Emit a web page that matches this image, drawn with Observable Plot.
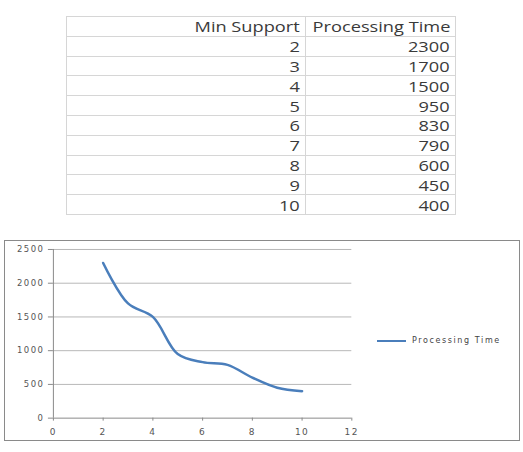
<!DOCTYPE html>
<html>
<head>
<meta charset="utf-8">
<script src="https://cdn.jsdelivr.net/npm/d3@7"></script>
<script src="https://cdn.jsdelivr.net/npm/@observablehq/plot@0.6"></script>
<style>
  html, body { margin: 0; padding: 0; background: #fff; }
  body { width: 523px; height: 452px; position: relative; overflow: hidden; }
  #tbl { position: absolute; left: 66px; top: 16px; border-collapse: collapse;
         font-family: "Open Sans", sans-serif; font-size: 13.8px; color: #3a3a3a; }
  #tbl tr { height: 19.8px; }
  #tbl td { border: 1px solid #d6d6d6; padding: 2px 5px 0 0; text-align: right;
            line-height: 16px; box-sizing: border-box; }
  #tbl td span { display: inline-block; transform: scaleX(1.32); transform-origin: right center; }
  #tbl td.c1 { width: 239px; }
  #tbl td.c2 { width: 150px; }
  #box { position: absolute; left: 4px; top: 240px; width: 516px; height: 201px;
         box-sizing: border-box; border: 1px solid #8a8a8a; }
  #chart { position: absolute; left: -1px; top: -1px; }
  #legend { position: absolute; left: 372px; top: 95px; font-family: "DejaVu Sans", sans-serif;
            font-size: 8px; letter-spacing: 1.6px; color: #444; white-space: nowrap; line-height: 10px; }
  #legend .swatch { display: inline-block; width: 29px; height: 0; border-top: 2.5px solid #4a7ebb;
                    vertical-align: middle; margin-right: 6px; }
</style>
</head>
<body>
<table id="tbl"></table>
<div id="box"><div id="chart"></div><div id="legend"><span class="swatch"></span>Processing Time</div></div>
<script>
const headers = ["Min Support", "Processing Time"];
const minSupport = [2, 3, 4, 5, 6, 7, 8, 9, 10];
const processingTime = [2300, 1700, 1500, 950, 830, 790, 600, 450, 400];
const xTicks = [0, 2, 4, 6, 8, 10, 12];
const yTicks = [0, 500, 1000, 1500, 2000, 2500];

// table
const tbl = d3.select("#tbl");
const hr = tbl.append("tr");
hr.append("td").attr("class", "c1").append("span").text(headers[0]);
hr.append("td").attr("class", "c2").append("span").text(headers[1]);
minSupport.forEach((m, i) => {
  const r = tbl.append("tr");
  r.append("td").attr("class", "c1").append("span").text(m);
  r.append("td").attr("class", "c2").append("span").text(processingTime[i]);
});

const data = minSupport.map((m, i) => ({x: m, y: processingTime[i]}));

const chart = Plot.plot({
  width: 516,
  height: 201,
  marginLeft: 49,
  marginRight: 168,
  marginTop: 9,
  marginBottom: 23,
  style: {fontFamily: "DejaVu Sans, sans-serif", fontSize: "8.5px", color: "#555", background: "transparent", letterSpacing: "1.5px"},
  x: {domain: [0, 12], label: null},
  y: {domain: [0, 2500], label: null},
  marks: [
    Plot.ruleY(yTicks.filter(d => d > 0), {x1: 0, x2: 12, stroke: "#b8b8b8", strokeWidth: 1}),
    Plot.ruleX([0], {stroke: "#8a8a8a"}),
    Plot.ruleY([0], {x1: 0, x2: 12, stroke: "#8a8a8a"}),
    Plot.axisX({ticks: xTicks, tickFormat: d3.format("d"), stroke: "#8a8a8a", tickSize: 3, tickPadding: 7, fontSize: 9}),
    Plot.axisY({ticks: yTicks, tickFormat: d3.format("d"), stroke: "#8a8a8a", tickSize: 5, tickPadding: 4}),
    Plot.line(data, {x: "x", y: "y", stroke: "#4a7ebb", strokeWidth: 2.5, curve: "catmull-rom"})
  ]
});
document.getElementById("chart").appendChild(chart);
</script>
</body>
</html>
